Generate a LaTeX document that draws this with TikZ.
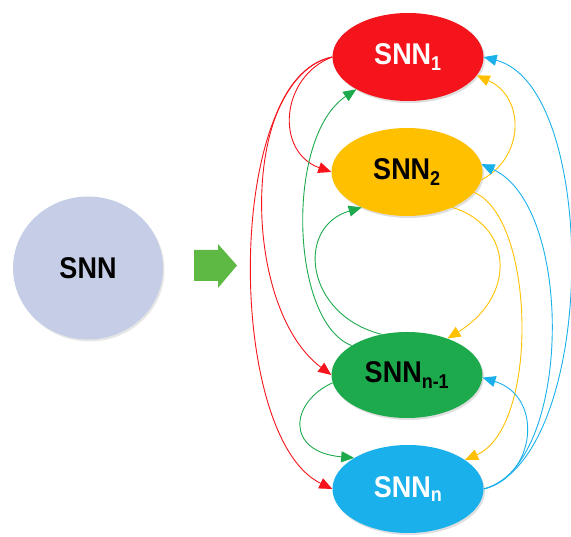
\documentclass[tikz,border=0pt]{standalone}
\usepackage{fontspec}
\setmainfont{Liberation Sans}
\newfontfamily\nodefont[FakeStretch=0.9]{Liberation Sans}
\usetikzlibrary{shapes.geometric,arrows.meta,shadows}
\definecolor{cred}{HTML}{F5141C}
\definecolor{corange}{HTML}{FFC000}
\definecolor{cgreen}{HTML}{1DAA4C}
\definecolor{cblue}{HTML}{19B0EC}
\definecolor{ccircle}{HTML}{C6CDE7}
\definecolor{carrow}{HTML}{5DB944}
\tikzset{
  snnbox/.style={ellipse, minimum width=151pt, minimum height=88pt, inner sep=0pt,
    font=\nodefont\bfseries\fontsize{30}{30}\selectfont,
    drop shadow={shadow xshift=1.5pt, shadow yshift=-2pt, opacity=0.25}},
  link/.style={line width=0.9pt, -{Triangle[length=13pt,width=11pt]}},
}
\begin{document}
\begin{tikzpicture}[x=1pt,y=1pt]
\useasboundingbox (0,0) rectangle (571,537);
% big SNN circle
\node[ellipse, minimum width=150pt, minimum height=143pt, fill=ccircle, inner sep=0pt,
  font=\nodefont\bfseries\fontsize{30}{30}\selectfont,
  drop shadow={shadow xshift=1.5pt, shadow yshift=-2pt, opacity=0.2}] (snn) at (88,269) {SNN};
% green block arrow
\fill[carrow] (194,287) -- (218,287) -- (218,293) -- (237,271.5) -- (218,249) -- (218,256) -- (194,256) -- cycle;
% ellipses
\node[snnbox, fill=cred, text=white] (s1) at (408,480) {SNN\textsubscript{\fontsize{20}{20}\selectfont 1}};
\node[snnbox, fill=corange, text=black] (s2) at (407,365) {SNN\textsubscript{\fontsize{20}{20}\selectfont 2}};
\node[snnbox, fill=cgreen, text=black, minimum height=86pt] (sn1) at (407,162) {SNN\textsubscript{\fontsize{20}{20}\selectfont n-1}};
\node[snnbox, fill=cblue, text=white] (sn) at (408,48) {SNN\textsubscript{\fontsize{20}{20}\selectfont n}};
% red links from SNN1
\draw[link, cred] (s1.west) .. controls (280,460) and (275,385) .. (s2.west);
\draw[link, cred] (s1.west) .. controls (240,460) and (240,230) .. (sn1.west);
\draw[link, cred] (s1.west) .. controls (225,460) and (225,100) .. (sn.west);
% green links from SNN n-1
\draw[link, cgreen] (sn1.152) .. controls (290,215) and (285,400) .. (s1.212);
\draw[link, cgreen] (sn1.122) .. controls (305,222) and (295,310) .. (s2.218);
\draw[link, cgreen] (sn1.186) .. controls (290,135) and (285,85) .. (sn.150);
% orange links from SNN2
\draw[link, corange] (s2.354) .. controls (525,380) and (525,440) .. (s1.345);
\draw[link, corange] (s2.322) .. controls (515,310) and (515,240) .. (sn1.42);
\draw[link, corange] (s2.343) .. controls (535,320) and (540,110) .. (sn.27);
% blue links from SNNn
\draw[link, cblue] (sn.east) .. controls (535,60) and (545,140) .. (sn1.358);
\draw[link, cblue] (sn.east) .. controls (572,70) and (575,330) .. (s2.6);
\draw[link, cblue] (sn.east) .. controls (598,80) and (600,450) .. (s1.east);
\end{tikzpicture}
\end{document}
